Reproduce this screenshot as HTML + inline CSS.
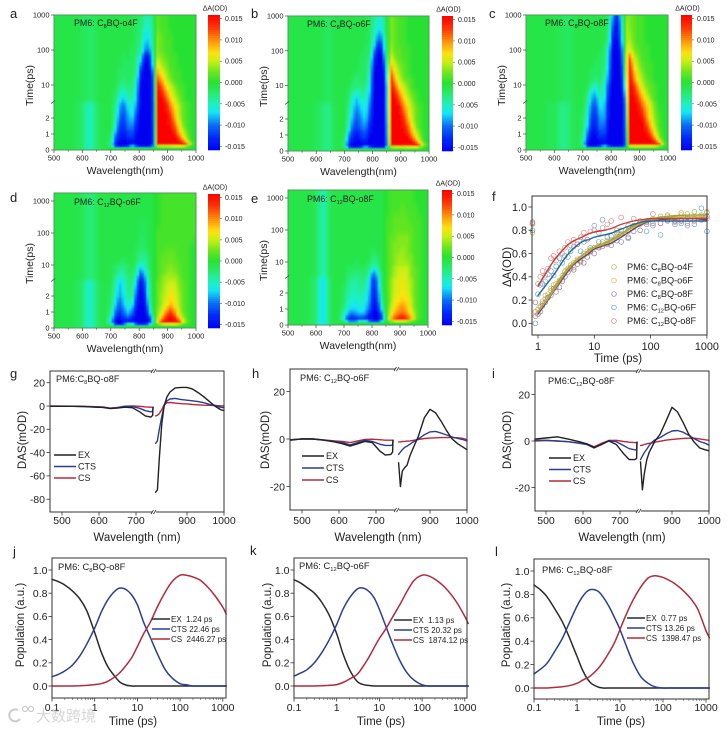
<!DOCTYPE html>
<html lang="en"><head><meta charset="utf-8"><title>Transient absorption figure</title>
<style>
html,body{margin:0;padding:0;background:#fff;width:727px;height:730px;overflow:hidden}
svg{display:block;filter:blur(0.3px)}
text{font-family:"Liberation Sans","Noto Sans CJK SC",sans-serif;fill:#222}
</style></head>
<body>
<svg id="fig" xmlns="http://www.w3.org/2000/svg" width="727" height="730" viewBox="0 0 727 730">
<defs><filter id="soft" x="-5%" y="-5%" width="110%" height="110%"><feGaussianBlur stdDeviation="0.7"/></filter></defs>
</svg>
<script>
/* ---------- heatmap data (mOD) ---------- */
const heatLeftWaves=[500,520,540,560,580,600,615,630,645,660,680];
const heatWaves=[700,715,730,745,760,775,790,805,820,835,845,855,865,880,895,910,925,940,955,970,985,1000];
const heatTimes=[1000,450,200,100,60,35,22,14,9,6,4,2.8,2,1.5,1.1,0.8,0.6,0.4,0.25,0.1];
const colorbarTicks=[0.015,0.010,0.005,0.000,-0.005,-0.010,-0.015];
const heatXTicks=[500,600,700,800,900,1000];
const heatYTicks=[1000,100,10,2,1,0];
const leftLateA=[-1,-1,-1,-1,-1,-1.5,-2,-2.2,-1.5,-1,-1];
const leftEarlyA=[-1,-1,-1,-1,-1.5,-2.5,-4.5,-5,-3,-1.5,-1];
const leftLateB=[-1,-1,-1,-1,-1,-1,-1,-1.5,-2,-1.2,-1];
const leftEarlyB=[-1,-1,-1,-1,-1,-1.5,-2,-3,-3.5,-1.5,-1];
const leftLateC=[-1,-1,-1,-1,-1,-1,-1.2,-1.5,-2,-1.5,-1];
const leftEarlyC=[-1,-1,-1,-1,-1.5,-1.5,-2.5,-3.5,-3,-2,-1];
const leftLateD=[-1,-1,-1,-1,-1,-1.5,-2.5,-3,-2,-1,-1];
const leftEarlyD=[-1,-1,-1,-1,-1.5,-2.5,-5,-5.5,-3.5,-1.5,-1];
const leftLateE=[-1,-1,-1,-1,-1,-1.5,-4,-4.5,-2,-1,-1];
const leftEarlyE=[-1,-1,-1,-1,-1.5,-2.5,-6.5,-6.5,-3,-1,-1];
const heatA=[
[-1,-1,-1,-1,-1,-1,-2,-2,-4,-4.5,-3,-1,2,1,1,0,0,0,0,0,0,0],
[-1,-1,-1,-1,-1,-1,-2,-2.5,-5,-6,-3.5,-1,2,1,1,0,0,0,0,0,0,0],
[-1,-1,-1,-1,-1,-1,-2,-3,-7,-7.5,-4,-1,3,2,1,1,0,0,0,0,0,0],
[-1,-1,-1,-1,-1,-2,-2,-4,-9,-10,-5,-1,3,2,1,1,0,0,0,0,0,0],
[-1,-1,-1,-2,-1,-2,-3,-6,-15,-15,-7,-1,4,3,2,1,1,0,0,0,0,0],
[-1,-1,-1,-2,-2,-2,-3,-10,-16,-16,-10,-1,7,4,3,1,1,0,0,0,0,0],
[-1,-1,-2,-2,-2,-2,-3,-14,-16,-16,-14,-1,9,6,4,2,1,1,0,0,0,0],
[-1,-1,-2,-3,-2,-2,-5,-15,-16,-16,-16,-1,12,9,5,3,1,1,0,0,0,0],
[-1,-1,-3,-4,-3,-3,-6,-16,-16,-16,-16,-2,15,12,7,5,3,1,1,0,0,0],
[-1,-2,-4,-6,-4,-3,-7,-16,-16,-16,-16,-2,16,14,10,6,4,2,1,0,0,0],
[-1,-2,-6,-8,-5,-4,-8,-16,-16,-16,-16,-2,16,16,12,8,5,3,1,0,0,0],
[-1,-3,-8,-10,-7,-5,-9,-16,-16,-16,-16,-3,16,16,15,10,7,4,2,1,0,0],
[-1,-4,-10,-12,-9,-7,-12,-16,-16,-16,-16,-3,16,16,16,14,9,5,2,1,0,0],
[-1,-5,-12,-13,-10,-9,-14,-16,-16,-16,-16,-4,16,16,16,15,12,7,3,1,0,0],
[-1,-8,-13,-14,-12,-11,-15,-16,-16,-16,-16,-4,16,16,16,16,14,9,5,2,0,0],
[-2,-10,-14,-15,-13,-12,-16,-16,-16,-16,-16,-5,16,16,16,16,16,12,7,3,0,0],
[-2,-12,-15,-16,-15,-14,-16,-16,-16,-16,-16,-5,16,16,16,16,16,15,10,4,0,0],
[-3,-14,-16,-16,-16,-15,-16,-16,-16,-16,-16,-6,16,16,16,16,16,16,16,10,2,0],
[-2,-13,-16,-16,-14,-8,-13,-16,-16,-16,-14,-2,4,5,5,5,6,6,6,3,0,0],
[0,0,0,0,0,0,0,0,0,0,0,0,0,0,0,0,0,0,0,0,0,0]];
const heatB=[
[-1,-1,-1,-1,-1,-1,-2,-3,-6,-5,-2,0,3,2,1,1,0,0,0,0,0,0],
[-1,-1,-1,-1,-1,-1,-2,-4,-7,-6,-2,0,3,2,1,1,0,0,0,0,0,0],
[-1,-1,-1,-1,-1,-1,-2,-5,-11,-9,-3,0,3,2,1,1,0,0,0,0,0,0],
[-1,-1,-1,-1,-1,-2,-2,-9,-16,-14,-4,0,4,2,2,1,1,0,0,0,0,0],
[-1,-1,-1,-1,-2,-2,-3,-13,-16,-16,-6,0,6,3,2,1,1,0,0,0,0,0],
[-1,-1,-1,-1,-2,-2,-4,-15,-16,-16,-10,0,9,5,3,2,1,0,0,0,0,0],
[-1,-1,-1,-2,-2,-2,-5,-16,-16,-16,-13,0,12,7,4,2,1,0,0,0,0,0],
[-1,-1,-2,-3,-2,-2,-6,-16,-16,-16,-15,0,15,9,5,3,2,1,0,0,0,0],
[-1,-1,-3,-3,-3,-3,-7,-16,-16,-16,-16,-1,16,12,7,5,3,1,0,0,0,0],
[-1,-2,-4,-6,-4,-4,-8,-16,-16,-16,-16,-1,16,14,10,6,4,2,1,0,0,0],
[-1,-2,-6,-8,-5,-5,-9,-16,-16,-16,-16,-1,16,16,12,8,5,3,1,0,0,0],
[-1,-3,-7,-9,-7,-6,-10,-16,-16,-16,-16,-1,16,16,15,10,7,4,2,1,0,0],
[-1,-4,-9,-11,-9,-7,-12,-16,-16,-16,-16,-2,16,16,16,14,9,5,2,1,0,0],
[-1,-5,-11,-12,-10,-9,-14,-16,-16,-16,-16,-3,16,16,16,15,12,7,3,1,0,0],
[-1,-8,-13,-14,-12,-11,-15,-16,-16,-16,-16,-3,16,16,16,16,14,9,5,2,0,0],
[-2,-10,-14,-15,-13,-12,-16,-16,-16,-16,-16,-4,16,16,16,16,16,12,7,3,0,0],
[-2,-12,-15,-16,-15,-14,-16,-16,-16,-16,-16,-4,16,16,16,16,16,15,10,4,0,0],
[-3,-14,-16,-16,-16,-15,-16,-16,-16,-16,-16,-5,16,16,16,16,16,16,16,10,2,0],
[-2,-13,-16,-16,-14,-8,-13,-16,-16,-16,-15,-2,4,5,5,5,6,6,6,3,0,0],
[0,0,0,0,0,0,0,0,0,0,0,0,0,0,0,0,0,0,0,0,0,0]];
const heatC=[
[-1,-1,-1,-1,-1,-1,-2,-8,-14,-6,-1,3,3,2,1,1,0,0,0,0,0,0],
[-1,-1,-1,-1,-1,-1,-2,-11,-16,-8,-1,4,3,2,1,1,0,0,0,0,0,0],
[-1,-1,-1,-1,-1,-1,-3,-14,-16,-10,-1,4,4,2,1,1,0,0,0,0,0,0],
[-1,-1,-1,-1,-1,-2,-6,-16,-16,-14,-2,5,6,3,2,1,1,0,0,0,0,0],
[-1,-1,-1,-1,-2,-2,-7,-16,-16,-15,-3,6,12,5,3,1,1,0,0,0,0,0],
[-1,-1,-1,-2,-2,-2,-8,-16,-16,-16,-4,6,15,7,4,2,1,1,0,0,0,0],
[-1,-1,-2,-2,-2,-3,-9,-16,-16,-16,-6,6,16,9,5,3,1,1,0,0,0,0],
[-1,-1,-2,-3,-2,-4,-10,-16,-16,-16,-8,5,16,11,6,4,2,1,0,0,0,0],
[-1,-1,-4,-6,-3,-5,-12,-16,-16,-16,-11,5,16,14,9,5,3,2,1,0,0,0],
[-1,-2,-7,-8,-4,-5,-13,-16,-16,-16,-13,4,16,15,11,7,4,2,1,0,0,0],
[-1,-3,-8,-10,-5,-6,-14,-16,-16,-16,-15,3,16,16,13,9,6,3,1,0,0,0],
[-1,-4,-10,-11,-7,-7,-15,-16,-16,-16,-16,2,16,16,15,11,8,5,2,0,0,0],
[-2,-5,-12,-13,-9,-8,-15,-16,-16,-16,-16,1,16,16,16,15,10,6,3,1,0,0],
[-2,-7,-13,-14,-10,-10,-16,-16,-16,-16,-16,0,16,16,16,16,13,8,4,1,0,0],
[-2,-9,-15,-15,-12,-11,-16,-16,-16,-16,-16,-1,16,16,16,16,15,11,6,2,0,0],
[-3,-11,-15,-16,-13,-13,-16,-16,-16,-16,-16,-2,16,16,16,16,16,14,8,3,0,0],
[-3,-13,-16,-16,-15,-14,-16,-16,-16,-16,-16,-2,16,16,16,16,16,16,12,5,0,0],
[-4,-15,-16,-16,-16,-15,-16,-16,-16,-16,-16,-3,16,16,16,16,16,16,16,12,2,0],
[-2,-14,-16,-16,-14,-8,-13,-16,-16,-16,-15,-1,5,6,6,6,6,6,6,3,0,0],
[0,0,0,0,0,0,0,0,0,0,0,0,0,0,0,0,0,0,0,0,0,0]];
const heatD=[
[-1,-1,-1,-1,-1,-1,-1,-1,-1,-1,-1,0,0,1,1,1,1,1,1,1,1,1],
[-1,-1,-1,-1,-1,-1,-1,-1,-1,-1,-1,0,0,1,1,1,1,1,1,1,1,1],
[-1,-1,-1,-1,-1,-1,-1,-1.5,-1.5,-1,-1,0,0,1,1,1,1,1,1,1,1,1],
[-1,-1,-1,-1,-1,-1,-1,-1.5,-1.5,-1,-1,0,1,1,1,1,1,1,1,1,1,1],
[-1,-1,-1,-1,-1,-1,-1,-2,-2,-1,-1,0,1,1,1,1,1,1,1,1,1,0],
[-1,-1,-1,-1,-1,-1,-1.5,-2,-2,-1,-1,0,1,1,1.5,1.5,1.5,1,1,1,0,0],
[-1,-1,-1,-1,-1,-1,-2,-3,-3,-1.5,-1,0,1,1.5,2,2,2,1,1,1,0,0],
[-1,-1,-1,-2,-1,-1,-2,-4,-4,-2,-1,0,1,2,2,2.5,2,1.5,1,1,0,0],
[-1,-2,-3,-3,-2,-1,-3,-7,-5,-2,-1,0,1,2,2.5,3,2.5,2,1,1,0,0],
[-1,-2,-4,-4,-2,-2,-4,-10,-7,-3,-1,0,1,2,3,3.5,3,2,1,1,0,0],
[-1,-3,-6,-5,-3,-2,-6,-14,-9,-3,-1,0,1,3,4,4,4,3,1,1,0,0],
[-1,-4,-8,-6,-3,-3,-8,-16,-11,-4,-1,0,2,3,4.5,5,5,3,2,1,0,0],
[-2,-5,-9,-7,-4,-3,-12,-16,-14,-4,-1,0,2,4,5,7,6,4,2,1,0,0],
[-2,-7,-11,-8,-5,-6,-14,-16,-15,-6,-1,0,2,4,6,8,7,4,2,1,0,0],
[-3,-9,-12,-10,-7,-9,-15,-16,-16,-9,-2,0,3,5,9,12,9,5,2,1,0,0],
[-4,-11,-14,-11,-9,-11,-16,-16,-16,-12,-3,0,3,7,12,15,12,6,3,1,0,0],
[-5,-13,-16,-13,-12,-14,-16,-16,-16,-15,-7,0,4,10,15,16,15,9,4,1,0,0],
[-7,-15,-16,-15,-14,-15,-16,-16,-16,-16,-10,-1,6,14,16,16,16,14,6,2,0,0],
[-3,-14,-16,-14,-4,-5,-13,-15,-15,-10,-3,-1,2,5,6,6,6,5,2,1,0,0],
[0,0,0,0,0,0,0,0,0,0,0,0,0,0,0,0,0,0,0,0,0,0]];
const heatE=[
[-1,-1,-1,-1,-1,-1,-1,-1,-1,-1,0,0,1,1,1,1,1,1,0,0,0,0],
[-1,-1,-1,-1,-1,-1,-1,-1,-1,-1,0,0,1,1,1,2,1,1,1,0,0,0],
[-1,-1,-1,-1,-1,-1,-1,-1,-1,-1,0,1,1,2,2,2,2,1,1,1,0,0],
[-1,-1,-1,-1,-1,-1,-1,-1,-1,-1,0,1,1,2,2,2,2,2,1,1,0,0],
[-1,-1,-1,-1,-1,-1,-1,-1,-1,-1,0,1,2,2,3,3,3,2,1,1,0,0],
[-1,-1,-1,-1,-1,-1,-1,-1,-1,-1,0,1,2,3,3,3,3,2,1,1,0,0],
[-1,-1,-1,-1,-1,-1,-1,-2,-1,-1,0,1,2,3,3,4,3,2,1,1,0,0],
[-1,-1,-1,-1,-1,-1,-1,-3,-2,-1,0,1,2,3,4,4,3,3,1,1,0,0],
[-1,-1,-1,-2,-1,-1,-2,-4,-3,-1,0,1,2,3,4,4,4,3,1,1,0,0],
[-1,-2,-2,-2,-2,-2,-3,-7,-5,-1,0,1,2,4,5,5,5,3,2,1,0,0],
[-1,-2,-3,-3,-3,-2,-5,-11,-7,-2,0,1,2,4,5,6,5,3,2,1,0,0],
[-1,-3,-4,-4,-3,-3,-7,-13,-9,-2,0,1,3,5,6,6,5,4,2,1,0,0],
[-2,-4,-5,-5,-4,-5,-8,-14,-11,-3,0,1,3,5,6,7,6,4,2,1,0,0],
[-2,-5,-6,-6,-5,-6,-9,-15,-12,-4,-1,1,3,6,7,8,7,5,2,1,0,0],
[-3,-6,-7,-7,-6,-7,-10,-15,-14,-6,-1,1,4,7,9,10,8,5,2,1,0,0],
[-4,-8,-9,-8,-7,-8,-12,-16,-15,-9,-2,1,5,8,10,11,9,6,3,1,0,0],
[-5,-10,-11,-10,-9,-10,-14,-16,-16,-11,-3,1,6,10,12,13,11,8,3,1,0,0],
[-7,-13,-14,-13,-12,-13,-15,-16,-16,-14,-5,0,8,12,15,16,13,9,3,1,0,0],
[-3,-10,-11,-10,-5,-6,-11,-14,-14,-8,-2,0,3,5,6,6,5,3,1,0,0,0],
[0,0,0,0,0,0,0,0,0,0,0,0,0,0,0,0,0,0,0,0,0,0]];

/* ---------- panel f data ---------- */
const kineticTimes=[0.8,0.9,1,1.1,1.2,1.35,1.5,1.7,1.9,2.1,2.4,2.7,3,3.4,3.8,4.3,5,5.7,6.5,7.5,8.5,10,12,14,17,20,25,30,40,50,65,85,110,150,200,270,350,450,600,800,1000];
const kineticO4=[.78,.10,.12,.14,.19,.24,.22,.30,.33,.31,.37,.41,.44,.47,.50,.48,.54,.56,.58,.60,.63,.65,.66,.70,.69,.72,.74,.77,.80,.83,.86,.88,.90,.92,.93,.91,.95,.94,.96,.93,.95];
const kineticO6=[.85,.10,.08,.15,.17,.21,.25,.28,.30,.34,.36,.38,.45,.46,.48,.52,.55,.54,.60,.62,.61,.65,.67,.68,.71,.70,.75,.76,.79,.84,.85,.87,.89,.90,.92,.90,.93,.91,.92,.90,.96];
const kineticO8=[.87,.18,.08,.10,.15,.18,.22,.24,.30,.27,.31,.36,.40,.44,.47,.46,.51,.53,.52,.57,.62,.60,.65,.66,.68,.67,.71,.70,.74,.79,.80,.85,.84,.86,.89,.88,.88,.91,.90,.89,.92];
const kineticC12O6=[.80,.00,.25,.33,.34,.36,.42,.45,.41,.49,.56,.52,.58,.57,.62,.66,.68,.62,.70,.72,.65,.84,.70,.89,.74,.75,.78,.80,.73,.84,.87,.79,.86,.76,.88,.85,.86,.84,.85,.99,.79];
const kineticC12O8=[.86,.06,.34,.40,.45,.41,.47,.56,.58,.54,.62,.60,.65,.70,.67,.72,.68,.74,.78,.72,.79,.80,.78,.82,.85,.88,.80,.91,.84,.90,.88,.87,.94,.86,.90,.87,.89,.86,.88,.92,.90];
const fitTimes=[1,1.5,2,3,4,6,8,10,15,20,30,50,70,100,200,500,1000];
const fitO4=[.10,.22,.32,.44,.51,.58,.63,.655,.69,.72,.77,.84,.87,.895,.92,.93,.93];
const fitO6=[.10,.21,.30,.43,.50,.58,.62,.65,.68,.71,.76,.83,.86,.885,.91,.915,.91];
const fitO8=[.08,.20,.29,.41,.49,.56,.60,.64,.67,.69,.74,.81,.85,.88,.895,.90,.89];
const fitC12O6=[.24,.35,.43,.56,.63,.70,.72,.74,.76,.775,.81,.85,.87,.88,.88,.88,.88];
const fitC12O8=[.32,.46,.55,.65,.70,.74,.77,.785,.80,.815,.85,.88,.89,.90,.90,.90,.90];
const kineticLabels=['8|o4F','8|o6F','8|o8F','12|o6F','12|o8F'];
const kineticXTicks=[1,10,100,1000];
const kineticYTicks=[0,0.2,0.4,0.6,0.8,1.0];

/* ---------- DAS data ---------- */
const dasLeftWaves=[470,500,530,560,590,610,630,650,670,690,710,725,740,745,746];
const dasRightWaves=[815,820,825,832,838,846,854,868,885,900,915,930,945,960,975,990,1000];
const dasGExL=[-.2,-.3,-.3,-.5,-1,-1.2,-2.2,-1.8,-1,-1.5,-5,-8.5,-9.5,-8,-1];
const dasGCtsL=[-.2,-.2,-.3,-.5,-.8,-1,-2,-1.5,-.3,-.5,-2,-4,-5,-4.5,-1];
const dasGCsL=[0,-.1,-.2,-.3,-.6,-.8,-1.8,-1.2,-.2,0,-.3,-.8,-1,-1,-1];
const dasGExR=[-74,-72,-45,-15,0,8,12,15.5,16,16,14.5,11.5,8,4,0,-3,-4];
const dasGCtsR=[-32,-30,-20,-9,0,4.5,6,6.5,5.5,5,4.5,3.8,2.8,1.5,.5,-1,-1.5];
const dasGCsR=[-8.5,-8,-6.5,-3,1,2.8,3,2.5,2,1.8,1.3,1,.7,.6,.4,.2,0];
const dasHExL=[-.5,.1,0,-.5,-1.3,-2,-3,-2,-1,-1.5,-5,-6.8,-6.5,-5.5,-.5];
const dasHCtsL=[-.3,0,0,-.5,-1,-1.5,-2.5,-1.5,-.5,-1,-2.2,-2.7,-2.7,-2.5,-.5];
const dasHCsL=[-.3,0,0,-.4,-.8,-1,-1.5,-.8,-.2,-.1,-.3,-.5,-.5,-.5,-.5];
const dasHExR=[-10,-20,-13.5,-12,-11,-7,-4,1,9,12.5,11,7.5,3.5,0,-2,-3.5,-4.5];
const dasHCtsR=[-6.5,-5.5,-4.5,-3.5,-3,-2.2,-1.3,0,1.8,3,3.2,2.5,1.7,.8,.2,-.3,-.8];
const dasHCsR=[-1.2,-1.2,-1,-1,-.9,-.8,-.6,-.2,.2,.4,.5,.6,.6,.6,.5,.2,-.3];
const dasIExL=[.8,1.3,1.8,.8,-.3,-1.2,-2.8,-1.5,0,-1.5,-5.5,-8,-8,-7.5,-.5];
const dasICtsL=[.3,.3,0,-.3,-1,-1.5,-3,-1.5,.2,-.3,-2,-3.3,-3.8,-3.8,-.5];
const dasICsL=[0,.2,0,-.3,-.8,-1.2,-2.5,-1,.2,.3,-.2,-.5,-.7,-.7,-.5];
const dasIExR=[-9,-21,-14,-8,-5,-2.5,0,3,9,14.5,12.5,8,3,-.5,-3,-3.8,-4.2];
const dasICtsR=[-8,-6.5,-5,-3.5,-2,-.5,.5,1.5,3.2,4.3,4.5,3.8,2.5,1,-.2,-1,-1.8];
const dasICsR=[-2,-1.8,-1.5,-1.2,-1,-.8,-.5,-.1,.4,.7,.9,1.1,1.2,1.2,.9,.5,.3];
const dasXTicks=[500,600,700,900,1000];
const dasYTicksG=[20,0,-20,-40,-60,-80];
const dasYTicksHI=[20,0,-20];

/* ---------- population data ---------- */
const popTimes=[0.1,0.14,0.2,0.3,0.45,0.65,1,1.4,2,3,4,5.5,7.5,10,14,20,30,45,65,100,140,200,300,450,650,1000,1200];
const popJEx=[.92,.90,.87,.82,.75,.65,.46,.30,.17,.08,.03,.008,0,0,0,0,0,0,0,0,0,0,0,0,0,0,0];
const popJCts=[.08,.10,.13,.18,.26,.36,.50,.63,.74,.82,.845,.83,.78,.70,.55,.42,.27,.14,.07,.02,.01,0,0,0,0,0,0];
const popJCs=[0,0,0,0,.003,.005,.012,.02,.04,.08,.12,.18,.25,.34,.45,.55,.69,.81,.90,.955,.955,.94,.91,.85,.78,.68,.62];
const popKEx=[.915,.89,.85,.80,.72,.62,.45,.28,.14,.04,.015,.005,0,0,0,0,0,0,0,0,0,0,0,0,0,0,0];
const popKCts=[.085,.11,.14,.20,.29,.39,.53,.66,.76,.835,.845,.82,.76,.66,.52,.37,.22,.11,.05,.01,0,0,0,0,0,0,0];
const popKCs=[0,0,0,0,.003,.005,.012,.03,.06,.10,.16,.24,.33,.41,.49,.59,.70,.82,.91,.955,.95,.92,.87,.80,.72,.60,.54];
const popLEx=[.88,.84,.78,.68,.57,.44,.27,.14,.05,.01,0,0,0,0,0,0,0,0,0,0,0,0,0,0,0,0,0];
const popLCts=[.12,.16,.21,.31,.42,.55,.70,.79,.84,.83,.78,.70,.60,.50,.36,.22,.10,.04,.01,0,0,0,0,0,0,0,0];
const popLCs=[0,0,0,.005,.01,.02,.04,.07,.10,.16,.22,.30,.39,.50,.63,.75,.86,.94,.96,.945,.92,.885,.83,.76,.67,.49,.43];
const popXTicks=[0.1,1,10,100,1000];
const popYTicks=[0,0.2,0.4,0.6,0.8,1.0];

/* ---------- helpers ---------- */
const NS='http://www.w3.org/2000/svg';
const root=document.getElementById('fig');
function mk(tag,attrs,parent){
  const n=document.createElementNS(NS,tag);
  for(const k in attrs)n.setAttribute(k,attrs[k]);
  (parent||root).appendChild(n);
  return n;
}
function group(name,parent){
  const g=mk('g',{},parent);
  
  
  return g;
}
function line(p,x1,y1,x2,y2,stroke,sw,name){
  const n=mk('line',{x1:x1,y1:y1,x2:x2,y2:y2,stroke:stroke,'stroke-width':sw},p);
  
  
  return n;
}
function label(p,x,y,str,size,anchor,name,rot){
  const n=mk('text',{x:x,y:y,'font-size':size,'text-anchor':anchor||'start'},p);
  
  
  if(rot)n.setAttribute('transform','rotate('+rot+' '+x+' '+y+')');
  const parts=String(str).split('_');
  parts.forEach(function(s,i){
    if(i%2===1){
      const a=mk('tspan',{dy:size*0.2,'font-size':size*0.62},n);a.textContent=s;
    }else if(i>0){
      const b=mk('tspan',{dy:-size*0.2},n);b.textContent=s;
    }else{
      const c=mk('tspan',{},n);c.textContent=s;
    }
  });
  return n;
}
function frame(p,x,y,w,h,stroke,sw,name){
  const n=mk('rect',{x:x,y:y,width:w,height:h,fill:'none',stroke:stroke,'stroke-width':sw},p);
  
  
  return n;
}
function polyline(p,pts,stroke,sw,name){
  const n=mk('polyline',{points:pts.map(function(q){return q[0].toFixed(1)+','+q[1].toFixed(1)}).join(' '),fill:'none',stroke:stroke,'stroke-width':sw,'stroke-linejoin':'round','stroke-linecap':'round'},p);
  
  
  return n;
}
function smooth(p,pts,stroke,sw,name){
  let d='M'+pts[0][0].toFixed(1)+' '+pts[0][1].toFixed(1);
  for(let i=0;i<pts.length-1;i++){
    const a=pts[Math.max(i-1,0)],b=pts[i],c=pts[i+1],e=pts[Math.min(i+2,pts.length-1)];
    d+=' C'+(b[0]+(c[0]-a[0])/6).toFixed(1)+' '+(b[1]+(c[1]-a[1])/6).toFixed(1)+' '+(c[0]-(e[0]-b[0])/6).toFixed(1)+' '+(c[1]-(e[1]-b[1])/6).toFixed(1)+' '+c[0].toFixed(1)+' '+c[1].toFixed(1);
  }
  const n=mk('path',{d:d,fill:'none',stroke:stroke,'stroke-width':sw,'stroke-linecap':'round'},p);
  
  
  return n;
}
function heatColor(v){
  const s=[[-16,0,0,240],[-13,0,40,250],[-10,10,110,245],[-7,20,230,245],[-5,30,240,190],[-2.5,40,235,110],[0,40,225,50],[2.5,110,230,30],[5,200,240,20],[7,255,225,15],[10,255,140,10],[13,255,50,5],[16,250,0,0]];
  if(v<=-16)return 'rgb(0,0,240)';
  if(v>=16)return 'rgb(250,0,0)';
  for(let i=0;i<s.length-1;i++){
    if(v>=s[i][0]&&v<=s[i+1][0]){
      const f=(v-s[i][0])/(s[i+1][0]-s[i][0]);
      return 'rgb('+[1,2,3].map(function(c){return Math.round(s[i][c]+f*(s[i+1][c]-s[i][c]))}).join(',')+')';
    }
  }
  return '#0f0';
}
function bracket(arr,v){
  if(v<=arr[0])return [0,0,0];
  for(let i=0;i<arr.length-1;i++){
    if(v<=arr[i+1])return [i,i+1,(v-arr[i])/(arr[i+1]-arr[i])];
  }
  return [arr.length-1,arr.length-1,0];
}

/* ---------- heatmap panels ---------- */
function drawHeat(c){
  const g=group('heatmap-panel-'+c.id);
  const hx=function(w){return c.x0+(w-500)*(c.x1-c.x0)/500};
  const dec=(c.y10-c.y1000)/2;
  const hy=function(t){return t<=3?c.y0-t*(c.y0-c.y1):c.y10+Math.log10(10/t)*dec};
  const clipId='clip'+c.id;
  const cp=mk('clipPath',{id:clipId},g);
  mk('rect',{x:c.x0,y:c.top,width:c.x1-c.x0,height:c.bot-c.top},cp);
  const clip=mk('g',{'clip-path':'url(#'+clipId+')'},g);
  
  
  const bg=mk('rect',{x:c.x0,y:c.top,width:c.x1-c.x0,height:c.bot-c.top,fill:heatColor(-1)},clip);
  
  
  const cells=mk('g',{filter:'url(#soft)'},clip);
  
  
  const allW=heatLeftWaves.concat(heatWaves);
  const xs=allW.map(hx);
  const ys=heatTimes.map(hy);
  const rows=heatTimes.map(function(t,r){return (t>3?c.late:c.early).concat(c.grid[r])});
  const step=2.5;
  for(let py=c.top-2.5;py<c.bot+2.5;py+=step){
    const rb=bracket(ys,py+step/2);
    for(let px=c.x0-2.5;px<c.x1+2.5;px+=step){
      const cb=bracket(xs,px+step/2);
      const top=rows[rb[0]][cb[0]]*(1-cb[2])+rows[rb[0]][cb[1]]*cb[2];
      const low=rows[rb[1]][cb[0]]*(1-cb[2])+rows[rb[1]][cb[1]]*cb[2];
      const v=top*(1-rb[2])+low*rb[2];
      const cell=mk('rect',{x:px,y:py,width:step+.2,height:step+.2,fill:heatColor(v)},cells);
      
      
    }
  }
  frame(g,c.x0,c.top,c.x1-c.x0,c.bot-c.top,'#4f9a58',1,'heatmap-frame');
  heatXTicks.forEach(function(w){
    line(g,hx(w),c.bot,hx(w),c.bot+3,'#444',.7,'x-tick');
    label(g,hx(w),c.bot+10.5,w,7.5,'middle','x-tick-label');
  });
  for(let w=550;w<1000;w+=100){line(g,hx(w),c.bot,hx(w),c.bot+1.8,'#444',.6,'x-minor-tick');}
  heatYTicks.forEach(function(t){
    line(g,c.x0-3,hy(t),c.x0,hy(t),'#444',.7,'y-tick');
    label(g,c.x0-4.5,hy(t)+2.6,t,7.5,'end','y-tick-label');
  });
  line(g,c.x0-3,hy(3)+1.5,c.x0+1,hy(3)-1.5,'#333',.7,'axis-break-mark');
  label(g,(c.x0+c.x1)/2,c.bot+24,'Wavelength(nm)',10.5,'middle','x-axis-title');
  label(g,c.x0-21,(c.top+c.bot)/2+3,'Time(ps)',10.5,'middle','y-axis-title',-90);
  label(g,c.lx,c.ly,c.title,8.9,'start','sample-label');
  label(g,c.letterX,c.letterY,c.id,13,'start','panel-letter');
  /* colour bar */
  const cb=group('colorbar-'+c.id,g);
  const h=c.cbBot-c.cbTop;
  for(let i=0;i<64;i++){
    const v=15.85-31.7*(i+0.5)/64;
    const s=mk('rect',{x:c.cb0,y:(c.cbTop+i*h/64).toFixed(2),width:c.cb1-c.cb0,height:(h/64+.3).toFixed(2),fill:heatColor(v)},cb);
    
    
  }
  colorbarTicks.forEach(function(v){
    const y=c.cbTop+(15.85-v*1000)/31.7*h;
    line(cb,c.cb1,y,c.cb1+2,y,'#555',.6,'colorbar-tick');
    label(cb,c.cb1+5,y+2.5,v.toFixed(3),7,'start','colorbar-tick-label');
  });
  label(cb,(c.cb0+c.cb1)/2+1,c.cbTop-4.5,'ΔA(OD)',7,'middle','colorbar-title');
}
drawHeat({id:'a',grid:heatA,late:leftLateA,early:leftEarlyA,x0:54,x1:196,top:15,bot:150,y1000:15,y10:85,y1:134,y0:150,cb0:208,cb1:220,cbTop:15,cbBot:150,lx:74,ly:26,title:'PM6: C_8_BQ-o4F',letterX:10,letterY:18});
drawHeat({id:'b',grid:heatB,late:leftLateB,early:leftEarlyB,x0:288,x1:429,top:16,bot:151,y1000:16,y10:85.5,y1:135,y0:151,cb0:442,cb1:453,cbTop:16,cbBot:151,lx:307,ly:27,title:'PM6: C_8_BQ-o6F',letterX:251,letterY:18});
drawHeat({id:'c',grid:heatC,late:leftLateC,early:leftEarlyC,x0:526,x1:668,top:15,bot:150,y1000:15,y10:85,y1:134,y0:150,cb0:681,cb1:692,cbTop:15,cbBot:150,lx:545,ly:26,title:'PM6: C_8_BQ-o8F',letterX:489,letterY:18});
drawHeat({id:'d',grid:heatD,late:leftLateD,early:leftEarlyD,x0:54,x1:196,top:193,bot:328,y1000:201,y10:265,y1:312,y0:328,cb0:208,cb1:220,cbTop:194,cbBot:328,lx:74,ly:205,title:'PM6: C_12_BQ-o6F',letterX:10,letterY:202});
drawHeat({id:'e',grid:heatE,late:leftLateE,early:leftEarlyE,x0:288,x1:428,top:190,bot:325,y1000:198,y10:262,y1:309,y0:325,cb0:442,cb1:452,cbTop:190,cbBot:325,lx:307,ly:202,title:'PM6: C_12_BQ-o8F',letterX:251,letterY:203});

/* ---------- kinetics panel f ---------- */
(function(){
  const g=group('kinetics-panel-f');
  const X0=532,X1=707,Y0=196,Y1=335;
  const kx=function(t){return 538+Math.log10(t)*56.3};
  const ky=function(v){return 323.3-v*116.3};
  const cols=['#a5ad45','#d6ad52','#8d6fa6','#5d9cc4','#dc7a78'];
  const lineCols=['#9aa62e','#c9a43a','#5a4a7a','#1f6a9a','#c23e3a'];
  const scat=[kineticO4,kineticO6,kineticO8,kineticC12O6,kineticC12O8];
  const fits=[fitO4,fitO6,fitO8,fitC12O6,fitC12O8];
  scat.forEach(function(s,i){
    const sg=group('kinetics-scatter-'+i,g);
    s.forEach(function(v,k){
      const n=mk('circle',{cx:kx(kineticTimes[k]).toFixed(1),cy:ky(v).toFixed(1),r:2.4,fill:'none',stroke:cols[i],'stroke-width':.6},sg);
      
      
    });
  });
  [2,0,1,3,4].forEach(function(i){
    smooth(g,fits[i].map(function(v,k){return [kx(fitTimes[k]),ky(v)]}),lineCols[i],1.4,'kinetics-fit-line');
  });
  frame(g,X0,Y0,X1-X0,Y1-Y0,'#333',1,'plot-frame');
  kineticXTicks.forEach(function(t){
    line(g,kx(t),Y1,kx(t),Y1+3.5,'#333',.8,'x-tick');
    label(g,kx(t),350,t,10.8,'middle','x-tick-label');
  });
  kineticYTicks.forEach(function(v){
    line(g,X0-3.5,ky(v),X0,ky(v),'#333',.8,'y-tick');
    label(g,X0-5,ky(v)+3.8,v.toFixed(1),10.8,'end','y-tick-label');
  });
  label(g,618,362,'Time (ps)',11.5,'middle','x-axis-title');
  label(g,511,267,'ΔA(OD)',11.5,'middle','y-axis-title',-90);
  label(g,492,201,'f',13,'start','panel-letter');
  kineticLabels.forEach(function(s,i){
    const y=267+i*13.5;
    const m=mk('circle',{cx:614,cy:y,r:2.3,fill:'none',stroke:cols[i],'stroke-width':.7},g);
    
    
    const pair=s.split('|');
    label(g,627,y+3,'PM6: C_'+pair[0]+'_BQ-'+pair[1],9.2,'start','legend-entry');
  });
})();

/* ---------- DAS panels ---------- */
function drawDas(c){
  const g=group('das-panel-'+c.id);
  const k=0.37;
  const lx=function(w){return c.x500+(w-500)*k};
  const rx=function(w){return c.x1-(1000-w)*k};
  const y=function(v){return c.yz-v*c.ky};
  [c.cs,c.cts,c.ex].forEach(function(s,i){
    const col=['#b82a3c','#2a3f92','#222'][i];
    const nm=['das-cs','das-cts','das-ex'][i];
    polyline(g,dasLeftWaves.map(function(w,j){return [lx(w),y(s[0][j])]}),col,1.4,nm+'-left');
    polyline(g,dasRightWaves.map(function(w,j){return [rx(w),y(s[1][j])]}),col,1.4,nm+'-right');
  });
  frame(g,c.x0,c.top,c.x1-c.x0,c.bot-c.top,'#333',1,'plot-frame');
  [c.top,c.bot].forEach(function(yy){
    const gap=mk('rect',{x:c.brk-2,y:yy-1,width:4,height:2,fill:'#fff'},g);
    
    
    line(g,c.brk-3,yy+2,c.brk-.5,yy-2,'#333',.8,'axis-break-mark');
    line(g,c.brk-.5,yy+2,c.brk+2,yy-2,'#333',.8,'axis-break-mark');
  });
  dasXTicks.forEach(function(w){
    const xx=w<750?lx(w):rx(w);
    line(g,xx,c.bot,xx,c.bot+3.5,'#333',.8,'x-tick');
    label(g,xx,524,w,10.5,'middle','x-tick-label');
  });
  c.yTicks.forEach(function(v){
    line(g,c.x0-3.5,y(v),c.x0,y(v),'#333',.8,'y-tick');
    label(g,c.x0-5,y(v)+3.8,v,10.5,'end','y-tick-label');
  });
  label(g,c.tx,541,'Wavelength (nm)',11.5,'middle','x-axis-title');
  label(g,c.ytx,440,'DAS(mOD)',11.5,'middle','y-axis-title',-90);
  label(g,c.ix,c.iy,c.title,9.2,'start','sample-label');
  label(g,c.letterX,378,c.id,13,'start','panel-letter');
  ['EX','CTS','CS'].forEach(function(s,i){
    const col=['#222','#2a3f92','#b82a3c'][i];
    const yy=c.legY+i*c.legStep;
    line(g,c.legX,yy,c.legX+22,yy,col,1.6,'legend-line');
    label(g,c.legX+24,yy+3,s,9,'start','legend-entry');
  });
}
drawDas({id:'g',x0:50,x1:224,top:371,bot:512,x500:62,yz:406,ky:1.165,brk:154,yTicks:dasYTicksG,tx:137,ytx:26,ix:56,iy:382,title:'PM6:C_8_BQ-o8F',letterX:10,legX:54,legY:455,legStep:11.5,ex:[dasGExL,dasGExR],cts:[dasGCtsL,dasGCtsR],cs:[dasGCsL,dasGCsR]});
drawDas({id:'h',x0:290,x1:467,top:369,bot:510,x500:302,yz:439,ky:2.375,brk:397,yTicks:dasYTicksHI,tx:378,ytx:269,ix:300,iy:381,title:'PM6: C_12_BQ-o6F',letterX:252,legX:302,legY:456,legStep:12,ex:[dasHExL,dasHExR],cts:[dasHCtsL,dasHCtsR],cs:[dasHCsL,dasHCsR]});
drawDas({id:'i',x0:535,x1:709,top:371,bot:511,x500:546,yz:441,ky:2.325,brk:639,yTicks:dasYTicksHI,tx:622,ytx:511,ix:548,iy:384,title:'PM6:C_12_BQ-o8F',letterX:492,legX:549,legY:458,legStep:11.5,ex:[dasIExL,dasIExR],cts:[dasICtsL,dasICtsR],cs:[dasICsL,dasICsR]});

/* ---------- population panels ---------- */
function drawPop(c){
  const g=group('population-panel-'+c.id);
  const x=function(t){return c.x0+Math.log10(t/0.1)*c.dec};
  const y=function(v){return c.yz-v*(c.yz-c.yo)};
  [c.ex,c.cts,c.cs].forEach(function(s,i){
    smooth(g,popTimes.map(function(t,j){return [x(t),y(s[j])]}),['#2a2a2a','#2a3f92','#b02a3c'][i],1.5,['population-ex','population-cts','population-cs'][i]);
  });
  frame(g,c.x0,c.top,c.x1-c.x0,c.bot-c.top,'#333',1,'plot-frame');
  popXTicks.forEach(function(t){
    line(g,x(t),c.bot,x(t),c.bot+3.5,'#333',.8,'x-tick');
    label(g,x(t),711,t,10.5,'middle','x-tick-label');
    if(t<1000){
      for(let m=2;m<10;m++){line(g,x(t*m),c.bot,x(t*m),c.bot+2,'#333',.5,'x-minor-tick');}
    }
  });
  popYTicks.forEach(function(v){
    line(g,c.x0-3.5,y(v),c.x0,y(v),'#333',.8,'y-tick');
    label(g,c.x0-4.5,y(v)+3.8,v.toFixed(1),10.5,'end','y-tick-label');
  });
  label(g,c.tx,725,'Time (ps)',11.5,'middle','x-axis-title');
  label(g,c.ytx,625,'Population (a.u.)',11.5,'middle','y-axis-title',-90);
  label(g,c.ix,c.iy,c.title,9.4,'start','sample-label');
  label(g,c.letterX,c.letterY,c.id,13,'start','panel-letter');
  c.legend.forEach(function(s,i){
    const col=['#2a2a2a','#2a3f92','#b02a3c'][i];
    const yy=c.legY+i*10;
    line(g,c.legX,yy,c.legX+18,yy,col,1.4,'legend-line');
    const t=label(g,c.legX+19,yy+2.8,s,8,'start','legend-entry');
    t.style.whiteSpace='pre';
  });
}
drawPop({id:'j',x0:52,x1:226,top:558,bot:698,dec:42.7,yz:686,yo:570,tx:133,ytx:24,ix:58,iy:570,title:'PM6: C_8_BQ-o8F',letterX:13,letterY:556,legX:152,legY:619,ex:popJEx,cts:popJCts,cs:popJCs,legend:['EX  1.24 ps','CTS 22.46 ps','CS  2446.27 ps']});
drawPop({id:'k',x0:294,x1:467,top:558,bot:698,dec:42.7,yz:686,yo:570,tx:381,ytx:271,ix:299,iy:569,title:'PM6: C_12_BQ-o6F',letterX:250,letterY:555,legX:394,legY:620,ex:popKEx,cts:popKCts,cs:popKCs,legend:['EX  1.13 ps','CTS 20.32 ps','CS  1874.12 ps']});
drawPop({id:'l',x0:534,x1:709,top:559,bot:699,dec:43,yz:688,yo:571,tx:621,ytx:510,ix:542,iy:573,title:'PM6: C_12_BQ-o8F',letterX:495,letterY:556,legX:627,legY:618,ex:popLEx,cts:popLCts,cs:popLCs,legend:['EX  0.77 ps','CTS 13.26 ps','CS  1398.47 ps']});

/* ---------- watermark ---------- */
(function(){
  const g=group('watermark');
  const wm=mk('text',{x:36,y:721,'font-size':15,'fill-opacity':.6},g);
  wm.style.fill='#bbb';
  
  
  wm.textContent='大数跨境';
  const r=mk('path',{d:'M18 710 a6 6 0 1 0 2 9',fill:'none',stroke:'#ccc','stroke-width':2},g);
  
  
  [[25,709],[31,709]].forEach(function(q){
    const dot=mk('circle',{cx:q[0],cy:q[1],r:2.5,fill:'none',stroke:'#ccc','stroke-width':1.2},g);
    
    
  });
})();
</script>
</body></html>
